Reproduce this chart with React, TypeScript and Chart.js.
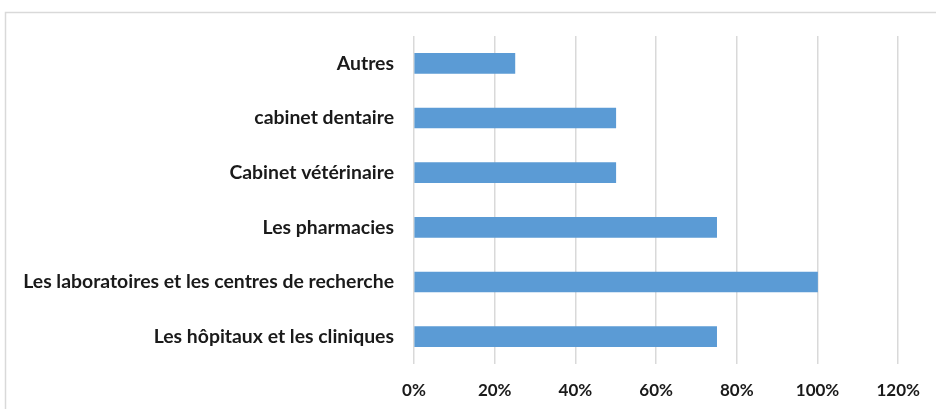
import React, { useEffect, useRef } from "react";
import { Chart, registerables } from "chart.js";

Chart.register(...registerables);

const categories = [
  "Autres",
  "cabinet dentaire",
  "Cabinet vétérinaire",
  "Les pharmacies",
  "Les laboratoires et les centres de recherche",
  "Les hôpitaux et les cliniques",
];
const values = [0.25, 0.5, 0.5, 0.75, 1.0, 0.75];
const xTicks = [0, 0.2, 0.4, 0.6, 0.8, 1.0, 1.2];

const FONT = "Lato, 'Liberation Sans', sans-serif";

const borderPlugin = {
  id: "outerBorder",
  beforeDraw(chart: any) {
    const ctx = chart.ctx;
    ctx.save();
    ctx.strokeStyle = "#d9d9d9";
    ctx.lineWidth = 1.5;
    ctx.beginPath();
    ctx.moveTo(5.5, chart.height);
    ctx.lineTo(5.5, 12.5);
    ctx.lineTo(chart.width, 12.5);
    ctx.stroke();
    ctx.restore();
  },
};

export default function App() {
  const ref = useRef<HTMLCanvasElement>(null);
  useEffect(() => {
    document.body.style.margin = "0";
    const chart = new Chart(ref.current!, {
      type: "bar",
      data: {
        labels: categories,
        datasets: [
          {
            data: values,
            backgroundColor: "#5b9bd5",
            barThickness: 20,
          },
        ],
      },
      options: {
        indexAxis: "y",
        animation: false,
        responsive: false,
        layout: { padding: { top: 36, right: 33, left: 0, bottom: 0 } },
        plugins: { legend: { display: false }, tooltip: { enabled: false } },
        scales: {
          x: {
            min: 0,
            max: 1.2,
            afterBuildTicks(scale: any) {
              scale.ticks = xTicks.map((v) => ({ value: v }));
            },
            afterFit(scale: any) {
              scale.height = 45;
            },
            grid: { color: "#d9d9d9", lineWidth: 1.5, drawTicks: false },
            border: { display: false },
            ticks: {
              padding: 16,
              color: "#1a1a1a",
              font: { family: FONT, size: 17, weight: "bold" },
              callback: (v: any) => Math.round(Number(v) * 100) + "%",
            },
          },
          y: {
            afterFit(scale: any) {
              scale.width = 414;
            },
            grid: { display: false, drawTicks: false },
            border: { display: false },
            ticks: {
              padding: 20,
              color: "#1a1a1a",
              font: { family: FONT, size: 19.4, weight: "bold" },
            },
          },
        },
      },
      plugins: [borderPlugin],
    });
    return () => chart.destroy();
  }, []);
  return (
    <div style={{ position: "absolute", left: 0, top: 0 }}>
      <canvas ref={ref} width={936} height={409} style={{ display: "block", width: 936, height: 409 }} />
    </div>
  );
}
